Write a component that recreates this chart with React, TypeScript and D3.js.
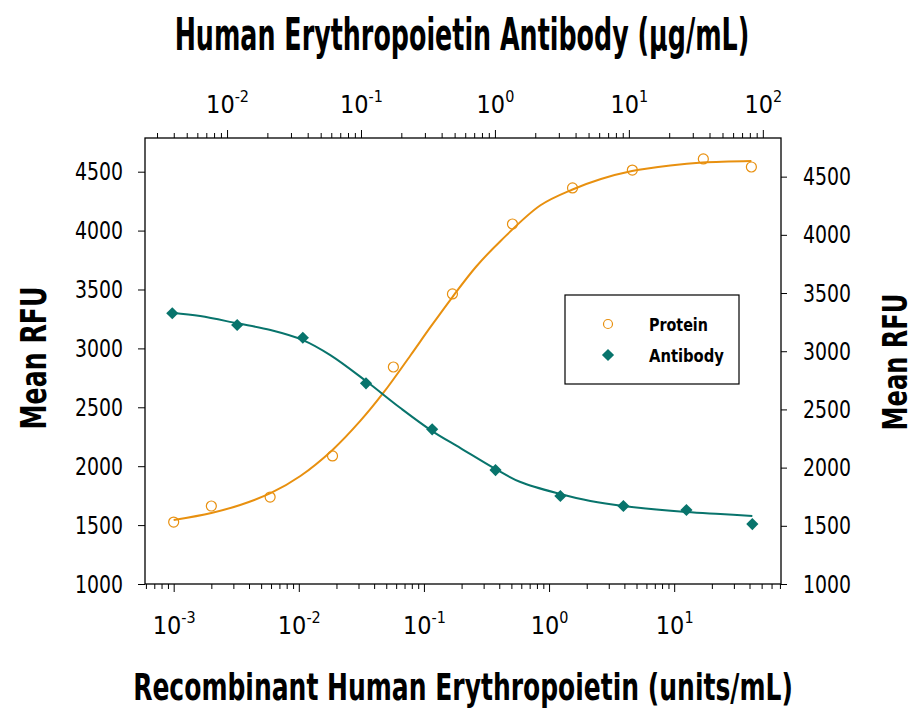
import * as React from "react";
import * as d3 from "d3";

// Recombinant Human Erythropoietin (units/mL) -> Mean RFU
const proteinDose = [0.001, 0.002, 0.0059, 0.0186, 0.057, 0.169, 0.51, 1.54, 4.63, 17.1, 41.4];
const proteinRfu = [1526, 1662, 1738, 2087, 2842, 3462, 4056, 4362, 4514, 4608, 4540];

// Human Erythropoietin Antibody (ug/mL) -> Mean RFU
const antibodyDose = [0.0039, 0.0119, 0.0368, 0.109, 0.34, 1.01, 3.08, 9.1, 26.9, 83.5];
const antibodyRfu = [3326, 3225, 3116, 2724, 2329, 1979, 1756, 1670, 1636, 1515];

// fitted curves
const proteinFitDose = [0.001, 0.002, 0.0034, 0.006, 0.0103, 0.0186, 0.031, 0.048, 0.078, 0.113, 0.169, 0.26, 0.41, 0.854, 1.54, 2.6, 4.6, 9.3, 16.8, 41.4];
const proteinFitRfu = [1543, 1603, 1671, 1773, 1917, 2138, 2384, 2630, 2940, 3182, 3436, 3691, 3912, 4215, 4349, 4438, 4506, 4553, 4578, 4591];

const antibodyFitDose = [0.0039, 0.0063, 0.0119, 0.0211, 0.0368, 0.059, 0.109, 0.197, 0.34, 0.553, 1.01, 1.55, 3.08, 5.16, 9.1, 26.9, 48.2, 83.5];
const antibodyFitRfu = [3331, 3302, 3240, 3182, 3096, 2967, 2744, 2512, 2314, 2168, 1988, 1876, 1773, 1713, 1670, 1619, 1601, 1584];

const rfuTicks = [1000, 1500, 2000, 2500, 3000, 3500, 4000, 4500];

const seriesNames = ["Protein", "Antibody"];

const orange = "#E8900F";
const teal = "#08746C";
const font = "'Liberation Sans Narrow', 'DejaVu Sans Condensed', 'Roboto', sans-serif";

function isDecade(v: number) {
  const l = Math.log10(v);
  return Math.abs(l - Math.round(l)) < 1e-9;
}

// squeeze a text horizontally to a given width (the reference uses a condensed face)
function squeeze(sel: any, pre: string, width: number) {
  const w = (sel.node() as SVGTextElement).getComputedTextLength();
  sel.attr("transform", `${pre} scale(${width / w}, 1)`);
}

function drawChart(svgRef: React.RefObject<SVGSVGElement | null>) {
  const svg = d3.select(svgRef.current);
  svg.selectAll("*").remove();

  const left = 145;
  const right = 781;
  const top = 138;
  const bottom = 584;

  const xBottom = d3.scaleLog().domain([5.9e-4, 71.4]).range([left, right]);
  const xTop = d3.scaleLog().domain([2.44e-3, 136.7]).range([left, right]);
  const yLeft = d3.scaleLinear().domain([1000, 4786]).range([bottom, top]);
  const yRight = d3.scaleLinear().domain([1000, 4832]).range([bottom, top]);

  svg.append("rect").attr("width", 924).attr("height", 717).attr("fill", "#fff");

  // log axes, top and bottom
  const logAxis = (axis: any, scale: any, y: number, dir: number) => {
    const g = svg
      .append("g")
      .attr("transform", `translate(0, ${y})`)
      .call(axis.tickValues(scale.ticks()).tickSize(5).tickSizeOuter(0).tickFormat(() => ""));
    g.select(".domain").remove();
    g.selectAll(".tick text").remove();
    g.selectAll(".tick line").attr("stroke", "#000");
    const major = g.selectAll(".tick").filter((d: any) => isDecade(d));
    major.select("line").attr("y2", 8 * dir);
    const label = major
      .append("text")
      .attr("y", dir > 0 ? 50 : -25)
      .attr("text-anchor", "middle")
      .attr("fill", "#000")
      .style("font-family", font)
      .style("font-size", "25px");
    label.append("tspan").text("10");
    label
      .append("tspan")
      .attr("dy", -11)
      .style("font-size", "16px")
      .text((d: any) => String(Math.round(Math.log10(d))));
  };
  logAxis(d3.axisBottom(xBottom), xBottom, bottom, 1);
  logAxis(d3.axisTop(xTop), xTop, top, -1);

  const leftAxis = svg
    .append("g")
    .attr("transform", `translate(${left}, 0)`)
    .call(d3.axisLeft(yLeft).tickValues(rfuTicks).tickFormat(d3.format("d")).tickSize(7).tickPadding(15).tickSizeOuter(0));
  const rightAxis = svg
    .append("g")
    .attr("transform", `translate(${right}, 0)`)
    .call(d3.axisRight(yRight).tickValues(rfuTicks).tickFormat(d3.format("d")).tickSize(6).tickPadding(16).tickSizeOuter(0));
  [leftAxis, rightAxis].forEach((g) => {
    g.select(".domain").remove();
    g.selectAll(".tick line").attr("stroke", "#000");
    g.selectAll(".tick text")
      .attr("fill", "#000")
      .attr("textLength", 48)
      .attr("lengthAdjust", "spacingAndGlyphs")
      .style("font-family", font)
      .style("font-size", "25px");
  });

  // plot frame
  svg
    .append("rect")
    .attr("x", left)
    .attr("y", top)
    .attr("width", right - left)
    .attr("height", bottom - top)
    .attr("fill", "none")
    .attr("stroke", "#000")
    .attr("stroke-width", 1.3);

  // fitted curves
  const proteinLine = d3
    .line<number>()
    .x((d) => xBottom(d))
    .y((_d, i) => yLeft(proteinFitRfu[i]))
    .curve(d3.curveCatmullRom.alpha(0.5));
  const antibodyLine = d3
    .line<number>()
    .x((d) => xTop(d))
    .y((_d, i) => yRight(antibodyFitRfu[i]))
    .curve(d3.curveCatmullRom.alpha(0.5));

  svg
    .append("path")
    .attr("d", proteinLine(proteinFitDose))
    .attr("fill", "none")
    .attr("stroke", orange)
    .attr("stroke-width", 2);
  svg
    .append("path")
    .attr("d", antibodyLine(antibodyFitDose))
    .attr("fill", "none")
    .attr("stroke", teal)
    .attr("stroke-width", 2);

  // points
  svg
    .append("g")
    .selectAll("circle")
    .data(proteinDose)
    .enter()
    .append("circle")
    .attr("cx", (d) => xBottom(d))
    .attr("cy", (_d, i) => yLeft(proteinRfu[i]))
    .attr("r", 5)
    .attr("fill", "none")
    .attr("stroke", orange)
    .attr("stroke-width", 1.2);

  const diamond = d3.symbol().type(d3.symbolSquare).size(74);
  svg
    .append("g")
    .selectAll("path")
    .data(antibodyDose)
    .enter()
    .append("path")
    .attr("d", diamond)
    .attr("transform", (d, i) => `translate(${xTop(d)}, ${yRight(antibodyRfu[i])}) rotate(45)`)
    .attr("fill", teal);

  // legend
  const legend = svg.append("g");
  legend
    .append("rect")
    .attr("x", 565)
    .attr("y", 295)
    .attr("width", 174)
    .attr("height", 89)
    .attr("fill", "#fff")
    .attr("stroke", "#000")
    .attr("stroke-width", 1.2);
  legend
    .append("circle")
    .attr("cx", 608)
    .attr("cy", 324)
    .attr("r", 4.5)
    .attr("fill", "none")
    .attr("stroke", orange)
    .attr("stroke-width", 1.2);
  legend
    .append("path")
    .attr("d", diamond)
    .attr("transform", "translate(608, 355) rotate(45)")
    .attr("fill", teal);
  seriesNames.forEach((name, i) => {
    const t = legend
      .append("text")
      .style("font-family", font)
      .style("font-weight", "bold")
      .style("font-size", "18px")
      .text(name);
    squeeze(t, `translate(649, ${331 + i * 31})`, i === 0 ? 59 : 75);
  });

  // axis titles
  const title = (text: string, x: number, y: number, size: number, len: number, rotate = false) => {
    const t = svg
      .append("text")
      .attr("text-anchor", "middle")
      .style("font-family", font)
      .style("font-weight", "bold")
      .style("font-size", size + "px")
      .text(text);
    squeeze(t, `translate(${x}, ${y})${rotate ? " rotate(-90)" : ""}`, len);
  };

  title("Human Erythropoietin Antibody (\u03BCg/mL)", 462, 50, 44, 575);
  title("Recombinant Human Erythropoietin (units/mL)", 463, 700, 38, 660);
  title("Mean RFU", 46, 358, 36, 143, true);
  title("Mean RFU", 907, 362, 34, 137, true);
}

const App = () => {
  const svg = React.useRef<SVGSVGElement>(null);
  React.useEffect(() => {
    drawChart(svg);
  }, [svg]);

  return (
    <svg
      ref={svg}
      width={924}
      height={717}
      style={{ position: "absolute", left: 0, top: 0, display: "block" }}
    />
  );
};

export default App;
